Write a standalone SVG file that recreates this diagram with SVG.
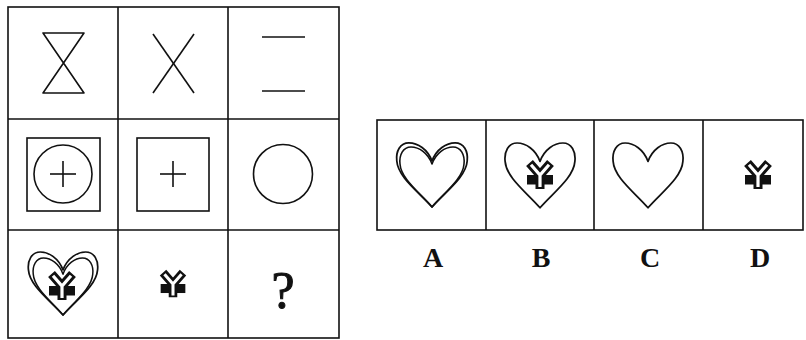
<svg xmlns="http://www.w3.org/2000/svg" xmlns:xlink="http://www.w3.org/1999/xlink" width="806" height="340" viewBox="0 0 806 340">
<style>
.ln{fill:none;stroke:#111;stroke-width:1.6}
.sh{fill:none;stroke:#111;stroke-width:1.6;stroke-linejoin:round}
.lbl{font-family:"Liberation Serif","Times New Roman",serif;font-weight:bold;font-size:28px;fill:#111;text-anchor:middle}
.q{font-family:"Liberation Serif","Times New Roman",serif;font-size:52px;fill:#111;stroke:#111;stroke-width:1;text-anchor:middle}
</style>
<defs>
<path id="heart" d="M 0,17 C -4,6 -13,0 -21,0 C -29,0 -33,8 -32,17 C -31,32 -12,46 0,60 C 12,46 31,32 32,17 C 33,8 29,0 21,0 C 13,0 4,6 0,17 Z"/>
<g id="yen">
<rect x="-13" y="0" width="26" height="9.5" fill="#111"/>
<path d="M -10.5,-12 L 0,0 L 10.5,-12 M 0,0 L 0,14" fill="none" stroke="#111" stroke-width="9" stroke-linejoin="miter" stroke-miterlimit="10"/>
<path d="M -9,-10.3 L 0,0 L 9,-10.3 M 0,0 L 0,12" fill="none" stroke="#fff" stroke-width="3.2" stroke-linejoin="miter" stroke-miterlimit="10"/>
</g>
</defs>
<g id="connectors"></g>
<g id="grid">
<rect x="8" y="7" width="331" height="331" class="ln"/>
<line x1="118" y1="7" x2="118" y2="338" class="ln"/>
<line x1="228" y1="7" x2="228" y2="338" class="ln"/>
<line x1="8" y1="119" x2="339" y2="119" class="ln"/>
<line x1="8" y1="230" x2="339" y2="230" class="ln"/>
</g>
<g id="cell-1-1">
<path d="M 43,33 L 84,33 L 43,93 L 84,93 Z" class="sh"/>
</g>
<g id="cell-1-2">
<line x1="153" y1="34" x2="194" y2="93" class="ln"/>
<line x1="194" y1="34" x2="153" y2="93" class="ln"/>
</g>
<g id="cell-1-3">
<line x1="262" y1="37" x2="305" y2="37" class="ln"/>
<line x1="262" y1="91" x2="305" y2="91" class="ln"/>
</g>
<g id="cell-2-1">
<rect x="27" y="138" width="73" height="73" class="ln"/>
<circle cx="63" cy="174" r="29" class="ln"/>
<line x1="50" y1="174" x2="76" y2="174" class="ln"/>
<line x1="63" y1="161" x2="63" y2="187" class="ln"/>
</g>
<g id="cell-2-2">
<rect x="137" y="138" width="72" height="73" class="ln"/>
<line x1="160" y1="174" x2="186" y2="174" class="ln"/>
<line x1="173" y1="161" x2="173" y2="187" class="ln"/>
</g>
<g id="cell-2-3">
<circle cx="283" cy="174" r="29.5" class="ln"/>
</g>
<g id="cell-3-1">
<use xlink:href="#heart" class="sh" transform="translate(63,258) scale(0.93,0.95)"/>
<use xlink:href="#heart" class="sh" transform="translate(63,315) scale(1.08,1.05) translate(0,-60)"/>
<use xlink:href="#yen" transform="translate(62,286)"/>
</g>
<g id="cell-3-2">
<use xlink:href="#yen" transform="translate(173,284) scale(0.95)"/>
</g>
<g id="cell-3-3">
<text x="283" y="308" class="q">?</text>
</g>
<g id="options">
<rect x="377" y="120" width="426" height="110" class="ln"/>
<line x1="486" y1="120" x2="486" y2="230" class="ln"/>
<line x1="594" y1="120" x2="594" y2="230" class="ln"/>
<line x1="703" y1="120" x2="703" y2="230" class="ln"/>
</g>
<g id="option-A">
<use xlink:href="#heart" class="sh" transform="translate(432,147)"/>
<use xlink:href="#heart" class="sh" transform="translate(432,207) scale(1.1,1.07) translate(0,-60)"/>
<text x="433" y="267" class="lbl">A</text>
</g>
<g id="option-B">
<use xlink:href="#heart" class="sh" transform="translate(540,143) scale(1.09,1.08)"/>
<use xlink:href="#yen" transform="translate(540,175)"/>
<text x="541" y="267" class="lbl">B</text>
</g>
<g id="option-C">
<use xlink:href="#heart" class="sh" transform="translate(648,143) scale(1.09,1.08)"/>
<text x="650" y="267" class="lbl">C</text>
</g>
<g id="option-D">
<use xlink:href="#yen" transform="translate(758,175)"/>
<text x="760" y="267" class="lbl">D</text>
</g>
</svg>
